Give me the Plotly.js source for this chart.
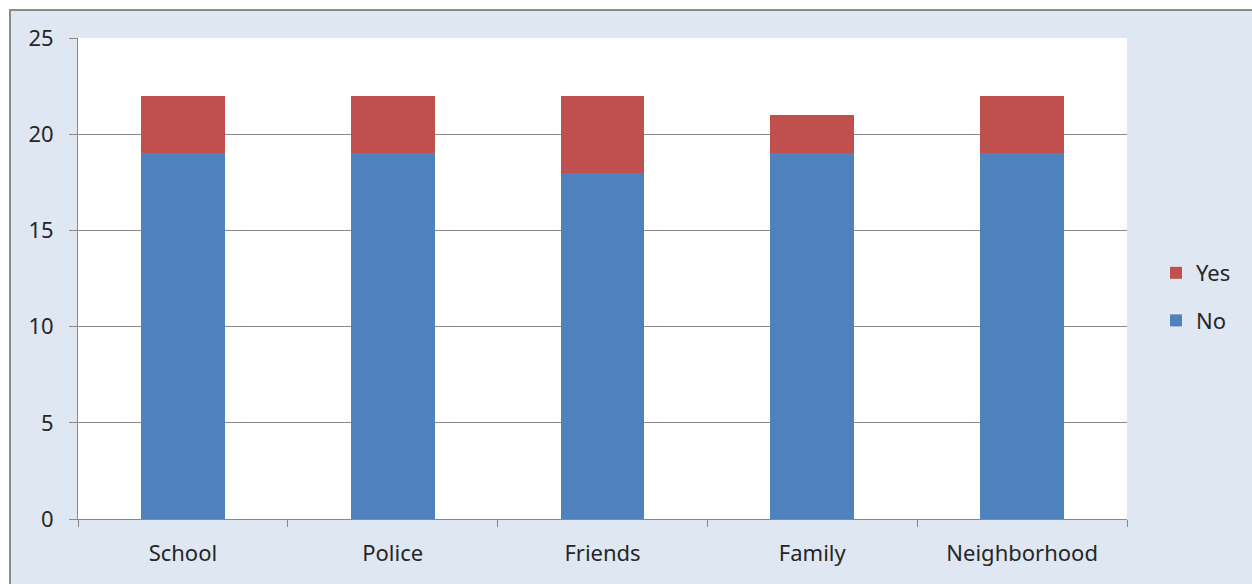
<!DOCTYPE html>
<html>
<head>
<meta charset="utf-8">
<script src="https://cdn.plot.ly/plotly-3.0.1.min.js"></script>
<style>html,body{margin:0;padding:0;background:#fff;}#chart{width:1252px;height:584px;}</style>
</head>
<body>
<div id="chart"></div>
<script>
const categories = ["School", "Police", "Friends", "Family", "Neighborhood"];
const noValues = [19, 19, 18, 19, 19];
const yesValues = [3, 3, 4, 2, 3];
const yTicks = [0, 5, 10, 15, 20, 25];

const W = 1252, H = 584;
const L = 78, R = 125, T = 38, B = 65;
const pw = W - L - R, ph = H - T - B;
const px = x => (x - L) / pw;
const py = y => 1 - (y - T) / ph;

const font = {family: "Noto Sans, Open Sans, sans-serif", size: 22, color: "#262626"};

const traces = [
  {type: "bar", name: "No", x: categories, y: noValues, marker: {color: "#4f81bd"}, legendgroup: "no", legendrank: 2},
  {type: "bar", name: "Yes", x: categories, y: yesValues, marker: {color: "#c0504d"}, legendgroup: "yes", legendrank: 1}
];

const layout = {
  width: W, height: H,
  margin: {l: L, r: R, t: T, b: B, pad: 0},
  paper_bgcolor: "#dfe7f2",
  plot_bgcolor: "#ffffff",
  barmode: "stack",
  bargap: 0.6,
  font: font,
  showlegend: true,
  hovermode: false,
  legend: {
    x: px(1156), xanchor: "left",
    y: py(297), yanchor: "middle",
    traceorder: "grouped",
    tracegroupgap: 16,
    bgcolor: "rgba(0,0,0,0)",
    font: font
  },
  xaxis: {
    type: "category",
    showline: true, linecolor: "#888888", linewidth: 1,
    ticks: "outside", tickson: "boundaries", ticklen: 7, tickcolor: "#888888",
    showgrid: false, zeroline: false,
    ticklabelstandoff: 15,
    tickfont: font
  },
  yaxis: {
    range: [0, 25],
    tickvals: yTicks,
    showline: true, linecolor: "#888888", linewidth: 1,
    ticks: "outside", ticklen: 8, tickcolor: "#888888",
    showgrid: true, gridcolor: "#888888", gridwidth: 1,
    zeroline: false,
    ticklabelstandoff: 11,
    tickfont: font
  },
  shapes: [
    {type: "rect", xref: "paper", yref: "paper", x0: px(-20), x1: px(9), y0: py(H + 20), y1: py(-20), fillcolor: "#ffffff", line: {width: 0}, layer: "above"},
    {type: "rect", xref: "paper", yref: "paper", x0: px(-20), x1: px(W + 20), y0: py(9), y1: py(-20), fillcolor: "#ffffff", line: {width: 0}, layer: "above"},
    {type: "rect", xref: "paper", yref: "paper", x0: px(10), x1: px(W + 40), y0: py(H + 40), y1: py(10), fillcolor: "rgba(0,0,0,0)", line: {width: 2, color: "#8a8a8a"}, layer: "above"}
  ]
};

Plotly.newPlot("chart", traces, layout, {displayModeBar: false, staticPlot: true});
</script>
</body>
</html>
